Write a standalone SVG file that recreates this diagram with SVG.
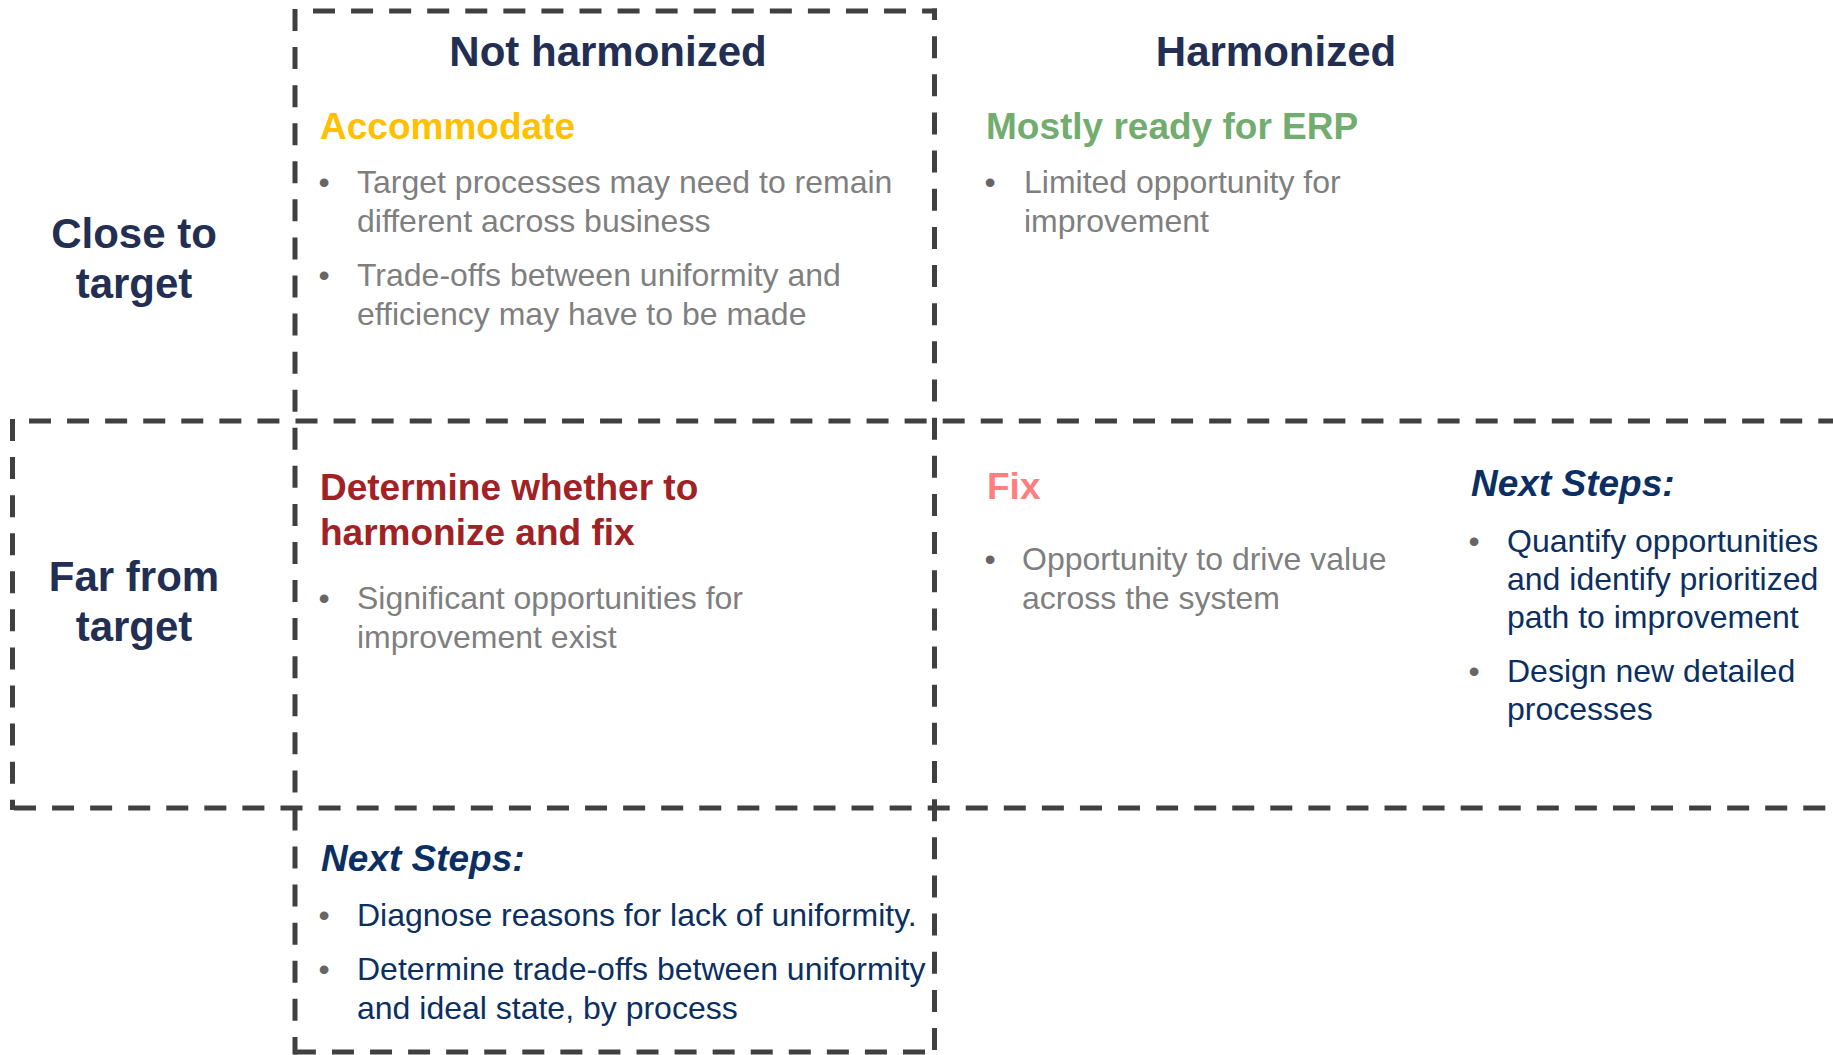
<svg xmlns="http://www.w3.org/2000/svg" width="1833" height="1055" viewBox="0 0 1833 1055">
<style>
.dash{stroke:#404040;stroke-width:5;fill:none;stroke-dasharray:22 16.07}
.t{font-family:"Liberation Sans",Arial,sans-serif}
.hd{font-size:42px;font-weight:bold;fill:#232F52}
.sub{font-size:37px;font-weight:bold}
.b{font-size:32px;fill:#7F7F7F}
.nb{font-size:32px;fill:#0B2F62}
.bul{font-size:32px;fill:#666666;text-anchor:middle}
.ns{font-size:37px;font-weight:bold;font-style:italic;fill:#0B2F62}
</style>
<rect width="1833" height="1055" fill="#ffffff"/>
<g id="grid-lines">
  <line class="dash" x1="313" y1="11" x2="937" y2="11"/>
  <line class="dash" x1="934.5" y1="8.5" x2="934.5" y2="1054.5" style="stroke-dasharray:22 16.15;stroke-dashoffset:10.5"/>
  <line class="dash" x1="925" y1="1052" x2="293" y2="1052"/>
  <line class="dash" x1="295" y1="9" x2="295" y2="1054.5"/>
  <line class="dash" x1="29" y1="421" x2="1833" y2="421"/>
  <line class="dash" x1="12.5" y1="419" x2="12.5" y2="810"/>
  <line class="dash" x1="14" y1="808" x2="1833" y2="808"/>
</g>
<g id="col-not-harmonized" class="t">
  <text class="hd" x="608" y="66" text-anchor="middle">Not harmonized</text>
</g>
<g id="col-harmonized" class="t">
  <text class="hd" x="1276" y="66" text-anchor="middle">Harmonized</text>
</g>
<g id="row-close" class="t">
  <text class="hd" x="134" y="248" text-anchor="middle">Close to</text>
  <text class="hd" x="134" y="298" text-anchor="middle">target</text>
</g>
<g id="row-far" class="t">
  <text class="hd" x="134" y="591" text-anchor="middle">Far from</text>
  <text class="hd" x="134" y="641" text-anchor="middle">target</text>
</g>
<g id="accommodate" class="t">
  <text class="sub" x="320" y="139" fill="#FFC000">Accommodate</text>
  <text class="bul" x="324" y="193">•</text>
  <text class="b" x="357" y="193">Target processes may need to remain</text>
  <text class="b" x="357" y="232">different across business</text>
  <text class="bul" x="324" y="286">•</text>
  <text class="b" x="357" y="286">Trade-offs between uniformity and</text>
  <text class="b" x="357" y="325">efficiency may have to be made</text>
</g>
<g id="mostly-ready" class="t">
  <text class="sub" x="986" y="139" fill="#72AC6E">Mostly ready for ERP</text>
  <text class="bul" x="990" y="193">•</text>
  <text class="b" x="1024" y="193">Limited opportunity for</text>
  <text class="b" x="1024" y="232">improvement</text>
</g>
<g id="determine" class="t">
  <text class="sub" x="320" y="500" fill="#A02224">Determine whether to</text>
  <text class="sub" x="320" y="545" fill="#A02224">harmonize and fix</text>
  <text class="bul" x="324" y="609">•</text>
  <text class="b" x="357" y="609">Significant opportunities for</text>
  <text class="b" x="357" y="648">improvement exist</text>
</g>
<g id="fix" class="t">
  <text class="sub" x="987" y="499" fill="#FF7F80">Fix</text>
  <text class="bul" x="990" y="570">•</text>
  <text class="b" x="1022" y="570">Opportunity to drive value</text>
  <text class="b" x="1022" y="609">across the system</text>
</g>
<g id="next-steps-right" class="t">
  <text class="ns" x="1471" y="496">Next Steps:</text>
  <text class="bul" x="1474" y="552">•</text>
  <text class="nb" x="1507" y="552">Quantify opportunities</text>
  <text class="nb" x="1507" y="590">and identify prioritized</text>
  <text class="nb" x="1507" y="628">path to improvement</text>
  <text class="bul" x="1474" y="682">•</text>
  <text class="nb" x="1507" y="682">Design new detailed</text>
  <text class="nb" x="1507" y="720">processes</text>
</g>
<g id="next-steps-bottom" class="t">
  <text class="ns" x="321" y="871">Next Steps:</text>
  <text class="bul" x="324" y="926">•</text>
  <text class="nb" x="357" y="926">Diagnose reasons for lack of uniformity.</text>
  <text class="bul" x="324" y="980">•</text>
  <text class="nb" x="357" y="980">Determine trade-offs between uniformity</text>
  <text class="nb" x="357" y="1019">and ideal state, by process</text>
</g>
</svg>
